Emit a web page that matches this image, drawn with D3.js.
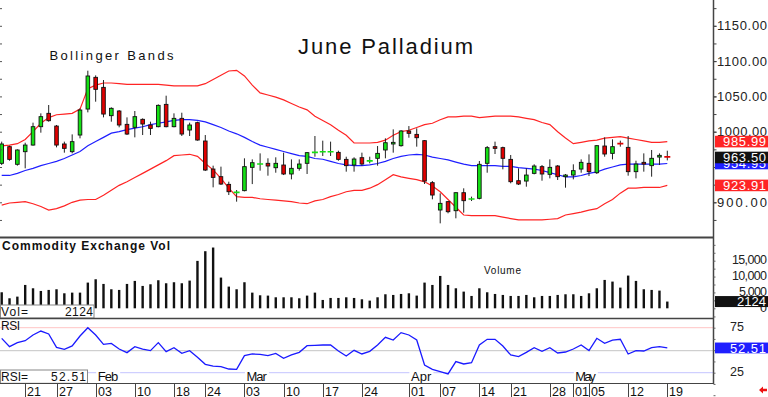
<!DOCTYPE html>
<html>
<head>
<meta charset="utf-8">
<script src="https://cdn.jsdelivr.net/npm/d3@7"></script>
<style>
  body { margin: 0; background: #fff; }
  svg { display: block; font-family: "Liberation Sans", Arial, sans-serif; }
</style>
</head>
<body>
<script>
// trading days, Jan 15 .. May 19
var dates = ["01-15","01-16","01-17","01-21","01-22","01-23","01-24","01-27","01-28","01-29","01-30","01-31",
  "02-03","02-04","02-05","02-06","02-07","02-10","02-11","02-12","02-13","02-14","02-18","02-19","02-20","02-21","02-24","02-25","02-26","02-27","02-28",
  "03-03","03-04","03-05","03-06","03-07","03-10","03-11","03-12","03-13","03-14","03-17","03-18","03-19","03-20","03-21","03-24","03-25","03-26","03-27","03-28","03-31",
  "04-01","04-02","04-03","04-04","04-07","04-08","04-09","04-10","04-11","04-14","04-15","04-16","04-17","04-21","04-22","04-23","04-24","04-25","04-28","04-29","04-30",
  "05-01","05-02","05-05","05-06","05-07","05-08","05-09","05-12","05-13","05-14","05-15","05-16","05-19"];

var opens = [955.2,978.8,953.8,971.7,981.1,1007.1,1026.0,1008.0,982.6,971.7,
  995.3,1032.1,1077.0,1062.8,1022.7,1029.3,1010.4,1006.2,1017.5,1009.5,
  1007.1,1038.7,1007.1,1018.9,1002.4,1012.8,986.8,947.1,936.3,925.4,
  913.6,916.5,949.5,953.8,955.2,949.0,952.8,940.1,948.1,955.2,
  970.3,971.2,971.2,970.7,960.8,952.8,963.2,958.0,962.3,974.1,
  982.6,980.2,1001.0,996.2,987.3,927.8,889.1,900.9,888.1,913.6,
  904.2,905.6,955.2,978.8,977.4,960.8,930.6,930.1,941.0,950.5,
  939.6,951.4,936.3,938.6,947.1,955.2,941.9,979.7,969.3,983.5,
  977.8,943.4,956.6,951.9,964.1,965.1];
var highs = [985.9,980.2,975.0,984.4,1012.8,1026.0,1037.8,1009.5,985.9,996.2,
  1033.1,1086.4,1079.8,1073.2,1034.5,1030.7,1020.3,1029.3,1018.9,1014.2,
  1038.7,1051.0,1026.0,1026.9,1012.8,1014.2,995.3,951.9,950.5,929.2,
  917.4,962.3,960.8,969.3,962.3,963.7,970.3,960.8,960.8,971.2,
  993.9,987.3,985.9,973.1,964.6,963.7,970.3,964.6,979.7,990.6,
  1003.3,1002.4,1008.0,1004.7,988.2,930.1,912.7,901.8,914.1,919.8,
  908.0,958.5,979.7,985.9,978.8,967.0,948.1,948.1,953.8,952.8,
  960.8,952.8,940.1,953.8,960.8,967.9,981.1,992.0,989.2,987.3,
  993.9,958.9,969.3,974.1,969.3,973.1];
var lows = [952.8,958.9,951.9,948.1,980.2,998.6,1014.2,977.8,970.3,969.3,
  990.6,1027.4,1042.5,1020.3,1014.2,1006.2,995.3,992.0,995.3,995.3,
  1006.2,1006.2,1006.2,993.9,993.9,987.3,944.3,921.2,924.5,910.3,
  900.9,915.5,925.8,944.8,937.7,941.9,938.6,932.5,944.8,940.1,
  964.6,965.6,965.6,958.9,943.4,943.4,951.9,955.2,951.9,962.3,
  970.3,978.8,991.5,978.8,925.9,904.2,870.2,884.4,877.3,885.3,
  901.8,904.2,941.9,968.4,946.7,926.9,924.5,922.1,939.6,930.6,
  933.9,931.6,920.7,932.5,941.9,937.2,940.1,964.6,960.8,978.8,
  937.7,933.9,943.4,936.3,952.8,959.4];
var closes = [982.6,960.8,974.1,981.1,1007.1,1021.3,1015.6,981.1,976.4,985.9,
  1030.7,1078.9,1060.0,1025.0,1033.1,1009.5,996.7,1021.3,1010.9,1004.7,
  1037.3,1007.1,1018.9,996.7,1009.5,988.2,945.7,935.3,925.9,915.0,
  914.6,950.5,956.1,954.7,951.4,955.2,940.1,948.1,954.2,970.3,
  971.2,972.2,972.2,960.8,951.9,961.3,954.2,959.4,969.3,984.4,
  984.9,1001.0,997.7,991.5,930.1,910.3,898.5,886.7,913.6,902.3,
  905.1,953.8,977.4,976.4,962.3,929.2,925.9,938.6,951.4,940.1,
  949.5,936.3,938.6,944.8,956.6,943.4,980.2,968.4,978.8,982.6,
  943.4,954.2,954.2,962.3,966.5,963.5];

var upperBand = [980,981,983,989,1000,1012,1020,1024,1025,1026,
  1032,1061,1066,1069,1069,1068,1067,1067,1067,1067,
  1067,1066,1065,1065,1065,1065,1068,1074,1080,1086,
  1087,1079,1066,1055,1052,1049,1045,1040,1035,1031,
  1022,1016,1010,1002,995,984,984,984,985,988,
  995,1000,1002,1006,1010,1012,1017,1021,1021,1022,
  1022,1020,1021,1022,1022,1022,1021,1019,1017,1013,
  1010,1000,991,983,985,987,988,991,992,993,
  991,989,987,985,985,985.99];
var middleBand = [938,938,941,945,948,952,955,958,962,967,
  972,980,986,992,998,1000,1003,1005,1007,1010,
  1012,1014,1016,1017,1017,1016,1014,1010,1006,1001,
  997,992,986,981,978,975,972,969,966,965,
  962,961,958,955,953,952,952,953,955,958,
  962,965,967,968,967,964,962,960,957,954,
  952,952,952,952,951,951,949,948,947,945,
  942,939,936,936,938,941,943,947,950,953,
  954,954,954,954,954,954.95];
var lowerBand = [896,899,900,901,898,894,889,891,895,900,
  903,904,904,910,917,924,929,935,941,947,
  953,959,966,967,968,965,955,946,934,920,
  908,907,907,905,904,903,902,901,899,898,
  902,904,908,911,915,917,917,920,925,932,
  939,936,934,932,929,923,915,904,893,882,
  881,881,881,881,879,877,875,875,875,875,
  876,877,882,884,886,889,891,898,904,913,
  920,920,921,921,921,923.91];

var volumes = [5050,3160,3680,7360,6310,5470,5790,6000,4730,4940,
  4940,8100,9150,7680,6000,5790,7680,8630,7050,7570,
  8840,7890,8210,7890,8730,14940,17990,19150,9680,6840,
  6000,8210,4940,4100,4000,3470,3470,3470,3160,4000,
  4940,2630,3260,3260,3470,3260,2840,2420,3470,4420,
  4210,4520,4730,4000,8100,7360,10200,7360,6310,5260,
  3890,6310,5050,4520,4210,3890,3890,4210,3470,3890,
  3890,4210,4420,4420,3890,4730,6310,8940,8420,6520,
  10310,8630,6000,5790,5580,2124];

var rsi = [63.2,53.9,58.4,60.6,66.9,71.3,68.0,53.2,51.0,54.7,
  65.8,75.0,66.9,56.5,57.6,51.3,47.3,53.9,51.3,49.5,
  58.4,48.4,52.8,46.5,49.5,42.1,34.3,32.4,31.7,29.1,
  28.7,43.9,45.8,45.4,43.9,46.5,41.0,44.7,47.6,55.0,
  55.4,55.8,55.8,49.1,43.6,49.9,45.8,48.7,55.8,64.3,
  61.3,69.5,66.9,61.3,33.6,28.7,26.1,23.6,37.3,34.7,
  36.1,55.8,62.1,62.1,54.7,44.7,42.8,47.6,52.8,48.7,
  52.8,46.9,48.0,51.3,55.8,49.5,63.2,57.6,61.3,62.1,
  45.8,49.5,49.1,52.8,53.9,52.51];

var weekTicks = ["01-21","01-27","02-03","02-10","02-18","02-24","03-03","03-10","03-17","03-24",
  "04-01","04-07","04-14","04-21","04-28","05-01","05-05","05-12","05-19"];
var monthTicks = [["02-03","Feb"],["03-03","Mar"],["04-01","Apr"],["05-01","May"]];
var priceTicks = [900, 1000, 1050, 1100, 1150];
var volTicks = [0, 5000, 10000, 15000];
var rsiTicks = [25, 75];

var W = 768, H = 397, plotRight = 713.5;
var last = dates.length - 1;

var svg = d3.select("body").append("svg").attr("width", W).attr("height", H);

var x = d3.scalePoint().domain(dates).range([1.7, 667.3]);
var y = d3.scaleLinear().domain([900, 1150]).range([202.3, 25.8]);
var yVol = d3.scaleLinear().domain([0, 15000]).range([308.3, 260.7]);
var yRsi = d3.scaleLinear().domain([25, 75]).range([372.7, 327.7]);

svg.append("clipPath").attr("id", "mainclip")
  .append("rect").attr("x", 0).attr("y", 0).attr("width", plotRight).attr("height", 236.5);

// ---- main panel ----
var main = svg.append("g").attr("clip-path", "url(#mainclip)");

var band = function(arr) {
  return d3.line().x(function(d, i) { return x(dates[i]); }).y(function(d) { return y(d); })(arr);
};
main.append("path").attr("d", band(upperBand)).attr("fill", "none").attr("stroke", "#ff2424").attr("stroke-width", 1.2);
main.append("path").attr("d", band(lowerBand)).attr("fill", "none").attr("stroke", "#ff2424").attr("stroke-width", 1.2);
main.append("path").attr("d", band(middleBand)).attr("fill", "none").attr("stroke", "#1f1fff").attr("stroke-width", 1.2);

var candle = main.selectAll(".candle")
  .data(dates)
  .enter().append("g")
    .attr("class", "candle");

candle.append("line")
  .attr("x1", function(d) { return x(d); })
  .attr("x2", function(d) { return x(d); })
  .attr("y1", function(d, i) { return y(highs[i]); })
  .attr("y2", function(d, i) { return y(lows[i]); })
  .attr("stroke", "#222")
  .attr("stroke-width", 1);

candle.each(function(d, i) {
  var g = d3.select(this),
      up = closes[i] >= opens[i],
      col = up ? "#14e014" : "#e00000",
      top = y(Math.max(opens[i], closes[i])),
      bot = y(Math.min(opens[i], closes[i]));
  if (bot - top < 1.3) {
    // doji: coloured dash
    g.append("line")
      .attr("x1", x(d) - 3).attr("x2", x(d) + 3)
      .attr("y1", (top + bot) / 2).attr("y2", (top + bot) / 2)
      .attr("stroke", col).attr("stroke-width", 1.6);
  } else {
    g.append("rect")
      .attr("x", x(d) - 1.8).attr("width", 3.6)
      .attr("y", top).attr("height", bot - top)
      .attr("fill", col).attr("stroke", "#111").attr("stroke-width", 0.9);
  }
});

svg.append("text").attr("x", 298).attr("y", 53.5)
  .attr("font-size", 22).attr("fill", "#111")
  .attr("textLength", 175).attr("lengthAdjust", "spacing")
  .text("June Palladium");
svg.append("text").attr("x", 49.5).attr("y", 59.5)
  .attr("font-size", 13).attr("fill", "#111")
  .attr("textLength", 124).attr("lengthAdjust", "spacing")
  .text("Bollinger Bands");

// left edge minor ticks
var leftTicks = svg.append("g").attr("transform", "translate(0,0)")
  .call(d3.axisRight(y).tickValues(d3.range(875, 1200, 25)).tickSize(2).tickFormat(""));
leftTicks.select(".domain").remove();
leftTicks.attr("color", "#555");

// ---- volume panel ----
svg.selectAll(".vbar")
  .data(volumes)
  .enter().append("rect")
    .attr("class", "vbar")
    .attr("x", function(d, i) { return x(dates[i]) - 1.2; })
    .attr("width", 2.4)
    .attr("y", function(d) { return yVol(d); })
    .attr("height", function(d) { return yVol(0) - yVol(d); })
    .attr("fill", "#111");

svg.append("text").attr("x", 2).attr("y", 249.5)
  .attr("font-size", 12).attr("font-weight", "bold").attr("fill", "#111")
  .attr("textLength", 168).attr("lengthAdjust", "spacing")
  .text("Commodity Exchange Vol");
svg.append("text").attr("x", 484).attr("y", 273.5)
  .attr("font-size", 10).attr("fill", "#111")
  .attr("textLength", 37).attr("lengthAdjust", "spacing")
  .text("Volume");

svg.append("rect").attr("x", 0.5).attr("y", 305).attr("width", 93.5).attr("height", 13)
  .attr("fill", "#fff").attr("stroke", "#888");
svg.append("text").attr("x", 1).attr("y", 316.3).attr("font-size", 12).attr("fill", "#111")
  .attr("textLength", 27).attr("lengthAdjust", "spacing").text("Vol=");
svg.append("text").attr("x", 93).attr("y", 316.3).attr("font-size", 12).attr("fill", "#111")
  .attr("text-anchor", "end").attr("textLength", 28).attr("lengthAdjust", "spacing")
  .text(volumes[last]);

// ---- RSI panel ----
svg.append("line").attr("x1", 0).attr("x2", plotRight).attr("y1", yRsi(75)).attr("y2", yRsi(75))
  .attr("stroke", "#ffc4c4").attr("stroke-width", 1);
svg.append("line").attr("x1", 0).attr("x2", plotRight).attr("y1", yRsi(50) + 0.5).attr("y2", yRsi(50) + 0.5)
  .attr("stroke", "#c4c4c4").attr("stroke-width", 1);
svg.append("line").attr("x1", 0).attr("x2", plotRight).attr("y1", yRsi(25)).attr("y2", yRsi(25))
  .attr("stroke", "#c4c4ff").attr("stroke-width", 1);

svg.append("path")
  .attr("d", d3.line().x(function(d, i) { return x(dates[i]); }).y(function(d) { return yRsi(d); })(rsi))
  .attr("fill", "none").attr("stroke", "#1a1aff").attr("stroke-width", 1.3);

svg.append("text").attr("x", 1).attr("y", 330).attr("font-size", 12).attr("fill", "#111")
  .attr("textLength", 19).attr("lengthAdjust", "spacing").text("RSI");

svg.selectAll(".month")
  .data(monthTicks)
  .enter().append("g")
    .attr("class", "month")
    .each(function(m) {
      var g = d3.select(this), mx = x(m[0]);
      g.append("rect").attr("x", mx + 0.5).attr("y", 371).attr("width", 24).attr("height", 12).attr("fill", "#fff");
      g.append("text").attr("x", mx + 2).attr("y", 381.3).attr("font-size", 13).attr("fill", "#111")
        .attr("textLength", 20.5).attr("lengthAdjust", "spacing").text(m[1]);
    });

svg.append("rect").attr("x", 0.5).attr("y", 370).attr("width", 87).attr("height", 13.3)
  .attr("fill", "#fff").attr("stroke", "#888");
svg.append("text").attr("x", 1).attr("y", 381.3).attr("font-size", 12).attr("fill", "#111")
  .attr("textLength", 27).attr("lengthAdjust", "spacing").text("RSI=");
svg.append("text").attr("x", 86).attr("y", 381.3).attr("font-size", 12).attr("fill", "#111")
  .attr("text-anchor", "end").attr("textLength", 35).attr("lengthAdjust", "spacing")
  .text(rsi[last].toFixed(2));

// ---- frame lines ----
svg.append("line").attr("x1", 0).attr("x2", plotRight).attr("y1", 237.5).attr("y2", 237.5)
  .attr("stroke", "#444").attr("stroke-width", 2);
svg.append("line").attr("x1", 0).attr("x2", plotRight).attr("y1", 318.5).attr("y2", 318.5)
  .attr("stroke", "#444").attr("stroke-width", 1.5);
svg.append("line").attr("x1", 0).attr("x2", plotRight).attr("y1", 383.5).attr("y2", 383.5)
  .attr("stroke", "#444").attr("stroke-width", 1);
svg.append("line").attr("x1", plotRight).attr("x2", plotRight).attr("y1", 0).attr("y2", 384)
  .attr("stroke", "#444").attr("stroke-width", 1.5);

// ---- date axis ----
var dateAxis = svg.selectAll(".dtick")
  .data(weekTicks)
  .enter().append("g")
    .attr("class", "dtick")
    .attr("transform", function(d) { return "translate(" + Math.round(x(d)) + ",0)"; });
dateAxis.append("line").attr("x1", 0.5).attr("x2", 0.5).attr("y1", 383.5).attr("y2", 397)
  .attr("stroke", "#444");
dateAxis.append("text").attr("x", 2).attr("y", 395.5).attr("font-size", 12.5).attr("fill", "#111")
  .text(function(d) { return d.slice(3); });

// ---- right axes ----
function styleAxis(g, size, width) {
  g.select(".domain").remove();
  g.attr("color", "#444").attr("font-family", null).attr("font-size", size);
  g.selectAll("text").attr("fill", "#222").attr("x", 767 - plotRight).attr("text-anchor", "end");
  if (width) g.selectAll("text").attr("textLength", width).attr("lengthAdjust", "spacing");
}

var minorP = svg.append("g").attr("transform", "translate(" + plotRight + ",0)")
  .call(d3.axisRight(y).tickValues(d3.range(875, 1200, 25)).tickSize(3).tickFormat(""));
minorP.select(".domain").remove();
minorP.attr("color", "#444");

var pAxis = svg.append("g").attr("transform", "translate(" + plotRight + ",0)")
  .call(d3.axisRight(y).tickValues(priceTicks).tickSize(3).tickFormat(d3.format(".2f")));
styleAxis(pAxis, 13, 50);

var vAxis = svg.append("g").attr("transform", "translate(" + plotRight + ",-1.2)")
  .call(d3.axisRight(yVol).tickValues(volTicks).tickSize(0));
styleAxis(vAxis, 12.5, null);
vAxis.selectAll("text").attr("textLength", function(d) { return String(d).length * 7; })
  .attr("lengthAdjust", "spacing");

var minorV = svg.append("g").attr("transform", "translate(" + plotRight + ",0)")
  .call(d3.axisRight(yVol).tickValues(d3.range(0, 22500, 2500)).tickSize(2).tickFormat(""));
minorV.select(".domain").remove();
minorV.attr("color", "#666");

var rAxis = svg.append("g").attr("transform", "translate(" + plotRight + ",-0.8)")
  .call(d3.axisRight(yRsi).tickValues(rsiTicks).tickSize(0));
styleAxis(rAxis, 12.5, 14);
rAxis.selectAll("text").attr("x", 744 - plotRight);

var minorR = svg.append("g").attr("transform", "translate(" + plotRight + ",0)")
  .call(d3.axisRight(yRsi).tickValues(d3.range(0, 100, 12.5)).tickSize(2).tickFormat(""));
minorR.select(".domain").remove();
minorR.attr("color", "#666");

// ---- last-value tags ----
var tags = [
  { v: upperBand[last], cy: y(upperBand[last]), fill: "#ff2424", h: 11.6 },
  { v: middleBand[last], cy: y(middleBand[last]), fill: "#1f1fff", h: 11.6 },
  { v: closes[last], cy: y(closes[last]), fill: "#111", h: 11.6 },
  { v: lowerBand[last], cy: y(lowerBand[last]), fill: "#ff2424", h: 11.6 },
  { v: volumes[last], cy: yVol(volumes[last]), fill: "#111", h: 11, txt: String(volumes[last]), w: 29 },
  { v: rsi[last], cy: yRsi(rsi[last]), fill: "#1f1fff", h: 10.8, w: 36 }
];
var tag = svg.selectAll(".tag")
  .data(tags)
  .enter().append("g")
    .attr("class", "tag");
tag.append("rect")
  .attr("x", 715).attr("width", W - 715)
  .attr("y", function(d) { return d.cy - d.h / 2; })
  .attr("height", function(d) { return d.h; })
  .attr("fill", function(d) { return d.fill; });
tag.append("text")
  .attr("x", 766).attr("y", function(d) { return d.cy + 4.6; })
  .attr("text-anchor", "end").attr("font-size", 13).attr("fill", "#fff")
  .attr("textLength", function(d) { return d.w || 43; }).attr("lengthAdjust", "spacing")
  .text(function(d) { return d.txt || d.v.toFixed(2); });

// small red arrow, bottom right
svg.append("path")
  .attr("d", "M759,390 L763,386.5 L763,388.8 L767,388.8 L767,391.2 L763,391.2 L763,393.5 Z")
  .attr("fill", "#ee1111");
</script>
</body>
</html>
